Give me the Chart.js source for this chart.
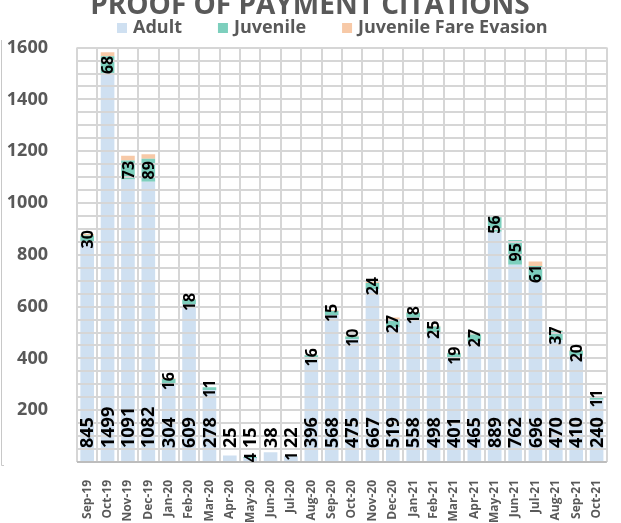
<!DOCTYPE html>
<html>
<head>
<meta charset="utf-8">
<script src="https://cdn.jsdelivr.net/npm/chart.js@4/dist/chart.umd.min.js"></script>
<style>
  html, body { margin: 0; padding: 0; background: #fff; }
  #wrap { width: 621px; height: 523px; position: relative; }
</style>
</head>
<body>
<div id="wrap"><canvas id="citations"></canvas></div>
<script>
var months = ['Sep-19', 'Oct-19', 'Nov-19', 'Dec-19', 'Jan-20', 'Feb-20', 'Mar-20', 'Apr-20', 'May-20',
    'Jun-20', 'Jul-20', 'Aug-20', 'Sep-20', 'Oct-20', 'Nov-20', 'Dec-20', 'Jan-21', 'Feb-21', 'Mar-21',
    'Apr-21', 'May-21', 'Jun-21', 'Jul-21', 'Aug-21', 'Sep-21', 'Oct-21'];
var adult = [845, 1499, 1091, 1082, 304, 609, 278, 25, 15, 38, 22, 396, 568, 475, 667, 519, 558, 498, 401,
    465, 889, 762, 696, 470, 410, 240];
var juvenile = [30, 68, 73, 89, 16, 18, 11, null, 4, null, 1, 16, 15, 10, 24, 27, 18, 25, 19,
    27, 56, 95, 61, 37, 20, 11];
// fare evasion has no labels in the original
var fareEvasion = [5, 15, 18, 17, 3, 2, 0, 0, 0, 0, 0, 1, 3, 2, 9, 12, 3, 3, 2,
    8, 9, 0, 17, 2, 2, 0];
var yTicks = [200, 400, 600, 800, 1000, 1200, 1400, 1600];

var grey = '#595959';
var gridGrey = '#d6d6d6';
var colors = ['#cfe0f1', '#7dcfbd', '#f7c9a7'];

// grid taken from the scales, then rotated value labels:
// adult at the base, juvenile centred on its segment
var barLabels = {
    id: 'barLabels',
    afterDatasetsDraw: function(chart) {
        var ctx = chart.ctx;
        var area = chart.chartArea;
        var xs = chart.scales.x;
        var ys = chart.scales.y;

        ctx.save();
        ctx.strokeStyle = gridGrey;
        ctx.lineWidth = 2;
        ctx.beginPath();
        ys.ticks.forEach(function(t) {
            var py = Math.round(ys.getPixelForValue(t.value));
            ctx.moveTo(area.left, py);
            ctx.lineTo(area.right, py);
        });
        var step = xs.getPixelForTick(1) - xs.getPixelForTick(0);
        for (var i = 0; i <= months.length; i++) {
            var px = Math.round(xs.getPixelForTick(0) + (i - 0.5) * step);
            ctx.moveTo(px, area.top);
            ctx.lineTo(px, area.bottom);
        }
        ctx.stroke();
        ctx.strokeStyle = '#bdbdbd';
        ctx.beginPath();
        ctx.moveTo(area.left, Math.round(area.bottom));
        ctx.lineTo(area.right, Math.round(area.bottom));
        ctx.stroke();
        ctx.restore();

        ctx.save();
        ctx.beginPath();
        ctx.rect(area.left, area.top, area.right - area.left, area.bottom - area.top);
        ctx.clip();
        ctx.fillStyle = '#000';
        ctx.textBaseline = 'middle';
        [0, 1].forEach(function(di) {
            var meta = chart.getDatasetMeta(di);
            var values = chart.data.datasets[di].data;
            meta.data.forEach(function(bar, i) {
                if (values[i] === null) return;
                ctx.save();
                if (di === 0) {
                    ctx.font = 'bold 18px "Open Sans"';
                    ctx.translate(bar.x, bar.base - 14);
                    ctx.textAlign = 'left';
                } else {
                    ctx.font = 'bold 16px "Open Sans"';
                    ctx.translate(bar.x, (bar.y + bar.base) / 2);
                    ctx.textAlign = 'center';
                }
                ctx.rotate(-Math.PI / 2);
                ctx.fillText(String(values[i]), 0, 1);
                ctx.restore();
            });
        });
        ctx.restore();
    }
};

// legend row under the title, plus the thin frame line at the far left
var topLegend = {
    id: 'topLegend',
    afterDraw: function(chart) {
        var ctx = chart.ctx;
        ctx.save();
        ctx.font = 'bold 18px "Open Sans"';
        ctx.textBaseline = 'middle';
        ctx.textAlign = 'left';
        var x = 117;
        var y = 28;
        chart.data.datasets.forEach(function(ds, i) {
            ctx.fillStyle = colors[i];
            ctx.fillRect(x, y - 5, 10, 10);
            ctx.fillStyle = grey;
            ctx.fillText(ds.label, x + 16, y);
            x += 16 + ctx.measureText(ds.label).width + 36;
        });
        ctx.strokeStyle = '#c8c8c8';
        ctx.lineWidth = 1;
        ctx.beginPath();
        ctx.moveTo(1.5, 40);
        ctx.lineTo(1.5, 465.5);
        ctx.lineTo(4, 465.5);
        ctx.stroke();
        ctx.restore();
    }
};

var config = {
    type: 'bar',
    data: {
        labels: months,
        datasets: [{
            label: 'Adult',
            data: adult,
            backgroundColor: colors[0]
        }, {
            label: 'Juvenile',
            data: juvenile,
            backgroundColor: colors[1]
        }, {
            label: 'Juvenile Fare Evasion',
            data: fareEvasion,
            backgroundColor: colors[2]
        }]
    },
    options: {
        responsive: true,
        maintainAspectRatio: false,
        animation: false,
        layout: {
            padding: { left: 0, right: 1, top: 0, bottom: 0 }
        },
        datasets: {
            bar: {
                categoryPercentage: 1,
                barPercentage: 0.67
            }
        },
        plugins: {
            title: {
                display: true,
                text: 'PROOF OF PAYMENT CITATIONS',
                color: grey,
                font: { family: 'Open Sans', size: 28, weight: 'bold' },
                padding: { top: -11, bottom: 25 }
            },
            legend: { display: false },
            tooltip: { enabled: false }
        },
        scales: {
            x: {
                stacked: true,
                grid: { display: false },
                border: { display: false },
                ticks: {
                    color: grey,
                    font: { family: 'Open Sans', size: 12, weight: 'bold' },
                    minRotation: 90,
                    maxRotation: 90,
                    autoSkip: false,
                    padding: 10
                },
                afterFit: function(scale) { scale.height = 61; }
            },
            y: {
                stacked: true,
                min: 0,
                max: 1600,
                grid: { display: false },
                border: { display: false },
                ticks: {
                    stepSize: 50,
                    autoSkip: false,
                    padding: 21,
                    color: grey,
                    font: { family: 'Open Sans', size: 18, weight: 'bold' },
                    callback: function(v) { return yTicks.indexOf(v) >= 0 ? v : ''; }
                },
                afterFit: function(scale) { scale.width = 77; }
            }
        }
    },
    plugins: [barLabels, topLegend]
};

window.onload = function() {
    var ctx = document.getElementById('citations').getContext('2d');
    window.citationChart = new Chart(ctx, config);
};
</script>
</body>
</html>
